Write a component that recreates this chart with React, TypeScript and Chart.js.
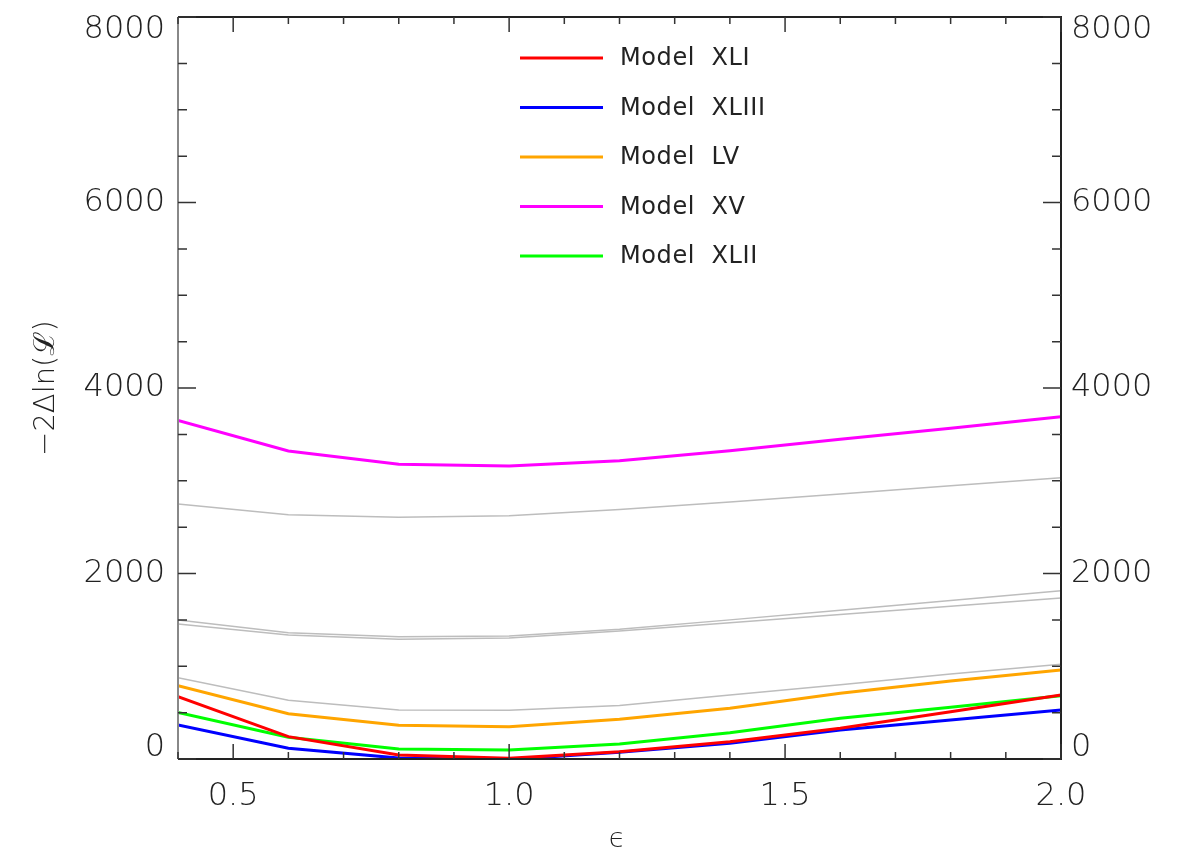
import React, { useEffect, useRef } from "react";
import { Chart, registerables } from "chart.js";

Chart.register(...registerables);

const epsilon = [0.4, 0.6, 0.8, 1.0, 1.2, 1.4, 1.6, 1.8, 2.0];

const modelXLI = [672, 241, 43, 7, 79, 187, 331, 510, 690];
const modelXLIII = [367, 115, 10, -5, 72, 169, 313, 420, 528];
const modelLV = [790, 489, 363, 348, 428, 547, 708, 841, 960];
const modelXV = [3650, 3321, 3178, 3159, 3215, 3324, 3447, 3565, 3691];
const modelXLII = [503, 234, 108, 97, 162, 284, 439, 557, 683];

const grayTop = [2749, 2634, 2606, 2623, 2690, 2771, 2857, 2947, 3033];
const grayMidUpper = [1499, 1362, 1319, 1326, 1398, 1500, 1605, 1710, 1815];
const grayMidLower = [1456, 1337, 1290, 1305, 1380, 1469, 1558, 1647, 1736];
const grayLow = [877, 633, 528, 525, 577, 690, 801, 916, 1021];

const legendLabels = ["Model  XLI", "Model  XLIII", "Model  LV", "Model  XV", "Model  XLII"];
const legendColors = ["#ff0000", "#0000ff", "#ffa500", "#ff00ff", "#00ff00"];

const xTickMajor = [0.5, 1.0, 1.5, 2.0];
const xTickLabels = ["0.5", "1.0", "1.5", "2.0"];
const yTickMajor = [0, 2000, 4000, 6000, 8000];
const yTickLabels = ["0", "2000", "4000", "6000", "8000"];

const FONT = '"DejaVu Sans", "Noto Sans", sans-serif';

const toPts = (ys: number[]) => epsilon.map((x, i) => ({ x, y: ys[i] }));

const framePlugin = {
  id: "idlFrame",
  afterDraw(chart: any) {
    const ctx = chart.ctx as CanvasRenderingContext2D;
    const { left, right, top, bottom } = chart.chartArea;
    const xs = chart.scales.x;
    const ys = chart.scales.y;
    ctx.save();

    // frame
    ctx.lineWidth = 2;
    ctx.strokeStyle = "#222";
    ctx.beginPath();
    ctx.moveTo(left, top);
    ctx.lineTo(right, top);
    ctx.lineTo(right, bottom);
    ctx.lineTo(left, bottom);
    ctx.stroke();
    ctx.strokeStyle = "#888";
    ctx.beginPath();
    ctx.moveTo(left, top);
    ctx.lineTo(left, bottom);
    ctx.stroke();

    // ticks
    ctx.strokeStyle = "#333";
    ctx.lineWidth = 1.5;
    for (let k = 4; k <= 20; k++) {
      const v = k / 10;
      const px = xs.getPixelForValue(v);
      const major = k % 5 === 0;
      const len = major ? 15 : 7;
      ctx.beginPath();
      ctx.moveTo(px, bottom);
      ctx.lineTo(px, bottom - len);
      ctx.moveTo(px, top);
      ctx.lineTo(px, top + len);
      ctx.stroke();
    }
    for (let v = 0; v <= 8000; v += 500) {
      const py = ys.getPixelForValue(v);
      const major = v % 2000 === 0;
      const len = major ? 18 : 9;
      ctx.beginPath();
      ctx.moveTo(left, py);
      ctx.lineTo(left + len, py);
      ctx.moveTo(right, py);
      ctx.lineTo(right - len, py);
      ctx.stroke();
    }

    // tick labels
    ctx.fillStyle = "#222";
    ctx.font = `200 32px ${FONT}`;
    ctx.textAlign = "center";
    ctx.textBaseline = "middle";
    xTickMajor.forEach((v, i) => {
      ctx.fillText(xTickLabels[i], xs.getPixelForValue(v), bottom + 38);
    });
    yTickMajor.forEach((v, i) => {
      let py = ys.getPixelForValue(v);
      if (i === 0) py = bottom - 11;
      if (i === yTickMajor.length - 1) py = top + 13;
      ctx.textAlign = "right";
      ctx.fillText(yTickLabels[i], left - 13, py);
      ctx.textAlign = "left";
      ctx.fillText(yTickLabels[i], right + 10, py);
    });

    // axis titles
    ctx.textAlign = "center";
    ctx.textBaseline = "alphabetic";
    ctx.font = `200 27px ${FONT}`;
    ctx.fillText("\u03F5", 617, 847);
    ctx.save();
    ctx.translate(46, 388);
    ctx.rotate(-Math.PI / 2);
    ctx.textBaseline = "middle";
    ctx.font = `200 29px ${FONT}`;
    ctx.fillText("\u22122\u0394ln(\u2112)", 0, 0);
    ctx.restore();

    // legend
    ctx.font = `24px ${FONT}`;
    (ctx as any).letterSpacing = "0.6px";
    ctx.textAlign = "left";
    ctx.textBaseline = "middle";
    legendLabels.forEach((lab, i) => {
      const y = 58 + i * 49.5;
      ctx.strokeStyle = legendColors[i];
      ctx.lineWidth = 3;
      ctx.beginPath();
      ctx.moveTo(520, y);
      ctx.lineTo(603, y);
      ctx.stroke();
      ctx.fillStyle = "#222";
      ctx.fillText(lab, 620, y + 1);
    });

    ctx.restore();
  },
};

export default function App() {
  const ref = useRef<HTMLCanvasElement | null>(null);

  useEffect(() => {
    document.body.style.margin = "0";
    const canvas = ref.current;
    if (!canvas) return;
    const gray = (data: number[]) => ({
      data: toPts(data),
      borderColor: "#bdbdbd",
      borderWidth: 1.5,
      pointRadius: 0,
      fill: false,
      tension: 0,
      order: 10,
    });
    const col = (data: number[], color: string, order: number) => ({
      data: toPts(data),
      borderColor: color,
      borderWidth: 3,
      pointRadius: 0,
      fill: false,
      tension: 0,
      order,
    });
    const chart = new Chart(canvas, {
      type: "line",
      data: {
        datasets: [
          gray(grayTop),
          gray(grayMidUpper),
          gray(grayMidLower),
          gray(grayLow),
          col(modelXV, "#ff00ff", 5),
          col(modelLV, "#ffa500", 4),
          col(modelXLII, "#00ff00", 3),
          col(modelXLIII, "#0000ff", 2),
          col(modelXLI, "#ff0000", 1),
        ] as any,
      },
      options: {
        animation: false,
        responsive: false,
        devicePixelRatio: 1,
        layout: { padding: { left: 178, right: 118, top: 17, bottom: 92 } },
        plugins: { legend: { display: false }, tooltip: { enabled: false } },
        scales: {
          x: { type: "linear", min: 0.4, max: 2.0, display: false },
          y: { type: "linear", min: 0, max: 8000, display: false },
        },
      },
      plugins: [framePlugin],
    });
    return () => chart.destroy();
  }, []);

  return (
    <div style={{ width: 1179, height: 851, background: "#fff" }}>
      <canvas ref={ref} width={1179} height={851} style={{ display: "block" }} />
    </div>
  );
}
